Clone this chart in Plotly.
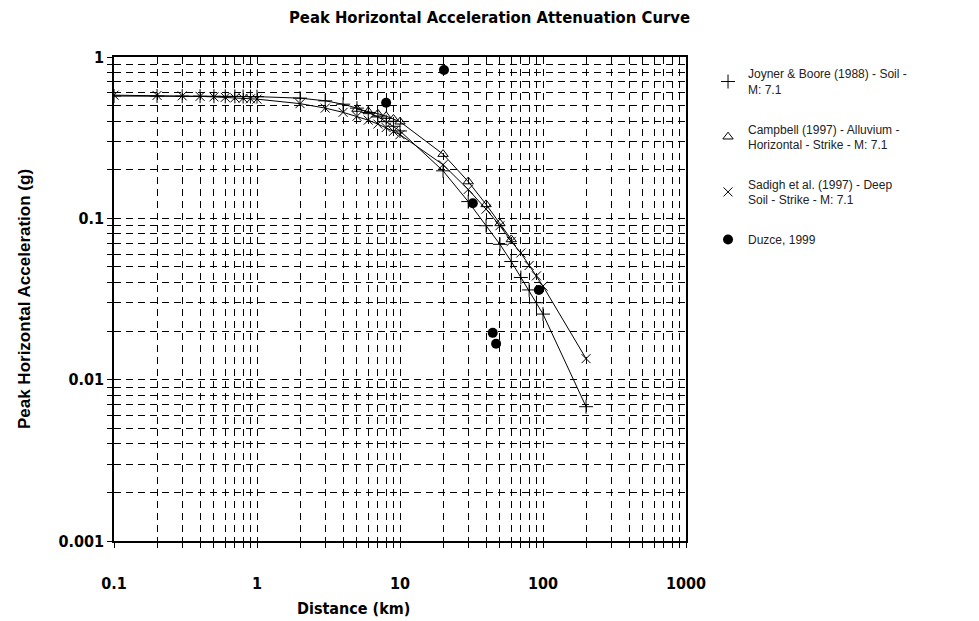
import plotly.graph_objects as go

# Distances (km) at which the attenuation relations are evaluated
dist = [0.1, 0.2, 0.3, 0.4, 0.5, 0.6, 0.7, 0.8, 0.9, 1,
        2, 3, 4, 5, 6, 7, 8, 9, 10,
        20, 30, 40, 50, 60, 70, 80, 90, 100, 200]

# Joyner & Boore (1988) - Soil - M 7.1, PGA (g)
joyner_pga = [0.573, 0.573, 0.572, 0.572, 0.571, 0.570, 0.570, 0.569, 0.568, 0.568,
              0.556, 0.535, 0.510, 0.482, 0.453, 0.425, 0.397, 0.372, 0.348,
              0.197, 0.127, 0.090, 0.069, 0.054, 0.043, 0.036, 0.030, 0.0255, 0.0068]

# Sadigh et al. (1997) - Deep Soil - Strike - M 7.1, PGA (g)
sadigh_pga = [0.580, 0.578, 0.574, 0.570, 0.566, 0.562, 0.558, 0.555, 0.551, 0.548,
              0.514, 0.482, 0.454, 0.429, 0.406, 0.384, 0.365, 0.346, 0.330,
              0.215, 0.151, 0.114, 0.090, 0.072, 0.061, 0.051, 0.044, 0.038, 0.0135]

# Campbell (1997) - Alluvium - Horizontal - Strike - M 7.1
campbell_dist = [5, 6, 7, 8, 9, 10, 20, 30, 40, 50, 60]
campbell_pga = [0.476, 0.460, 0.445, 0.430, 0.413, 0.397, 0.250, 0.169, 0.122, 0.093, 0.074]

# Recorded PGA, Duzce 1999
duzce_dist = [8.0, 20.3, 32.3, 44.5, 47.0, 93.5]
duzce_pga = [0.52, 0.83, 0.124, 0.0195, 0.0167, 0.036]

# Log-axis ticks: one at every 1..9 x decade, labelled only at the decades
x_mult = [k for e in range(-1, 3) for k in range(1, 10)] + [1]
x_tick_vals = [k * 10.0 ** e for e in range(-1, 3) for k in range(1, 10)] + [1000]
x_tick_text = ["%g" % v if k == 1 else "" for v, k in zip(x_tick_vals, x_mult)]
y_mult = [k for e in range(-3, 0) for k in range(1, 10)] + [1]
y_tick_vals = [k * 10.0 ** e for e in range(-3, 0) for k in range(1, 10)] + [1]
y_tick_text = ["%g" % v if k == 1 else "" for v, k in zip(y_tick_vals, y_mult)]

series = [
    ("Joyner & Boore (1988) - Soil -<br>M: 7.1", dist, joyner_pga, "cross-thin-open", 10),
    ("Campbell (1997) - Alluvium -<br>Horizontal - Strike - M: 7.1", campbell_dist, campbell_pga, "triangle-up-open", 9),
    ("Sadigh et al. (1997) - Deep<br>Soil - Strike - M: 7.1", dist, sadigh_pga, "x-thin-open", 9),
]

fig = go.Figure()
for i, (name, xs, ys, sym, size) in enumerate(series):
    fig.add_trace(go.Scatter(x=xs, y=ys, mode="lines", line=dict(color="black", width=1),
                             legendgroup=f"g{i}", showlegend=False, hoverinfo="skip"))
    fig.add_trace(go.Scatter(x=xs, y=ys, mode="markers", name=name, legendgroup=f"g{i}",
                             marker=dict(symbol=sym, size=size, color="black",
                                         line=dict(color="black", width=1))))
fig.add_trace(go.Scatter(x=duzce_dist, y=duzce_pga, mode="markers", name="Duzce, 1999",
                         legendgroup="g3",
                         marker=dict(symbol="circle", size=10, color="black")))

narrow = "Liberation Sans Narrow, DejaVu Sans Condensed, Arial Narrow, sans-serif"
axis_common = dict(
    showgrid=True, gridcolor="black", gridwidth=1, griddash="7px,5px",
    showline=True, linecolor="black", linewidth=1.5, mirror=True,
    ticks="outside", ticklen=5, tickcolor="black", zeroline=False,
    tickfont=dict(family=narrow, size=16, color="black", weight="bold"),
)

fig.update_xaxes(type="log", range=[-1, 3], tickmode="array",
                 tickvals=x_tick_vals, ticktext=x_tick_text,
                 ticklabelstandoff=22, **axis_common)
fig.update_yaxes(type="log", range=[-3, 0], tickmode="array",
                 tickvals=y_tick_vals, ticktext=y_tick_text,
                 title=dict(text="Peak Horizontal Acceleration (g)", standoff=24,
                            font=dict(family="Arial, Liberation Sans, sans-serif", size=17,
                                      color="black", weight="bold")),
                 **axis_common)

fig.update_layout(
    width=979, height=621,
    margin=dict(l=114, r=293, t=57, b=80),
    paper_bgcolor="white", plot_bgcolor="white",
    title=dict(text="Peak Horizontal Acceleration Attenuation Curve",
               x=0.5, xanchor="center", y=0.972, yanchor="middle",
               font=dict(family=narrow, size=16.5, color="black", weight="bold")),
    legend=dict(x=1.0385, y=0.995, xanchor="left", yanchor="top",
                font=dict(family="Liberation Sans, Arial, sans-serif", size=12, color="#222"),
                tracegroupgap=21, bgcolor="rgba(0,0,0,0)", itemwidth=30),
    annotations=[dict(text="Distance (km)", xref="paper", yref="paper",
                      x=0.418, y=-0.14, xanchor="center", yanchor="middle", showarrow=False,
                      font=dict(family=narrow, size=16, color="black", weight="bold"))],
    showlegend=True,
)

fig.write_html("out.html")
